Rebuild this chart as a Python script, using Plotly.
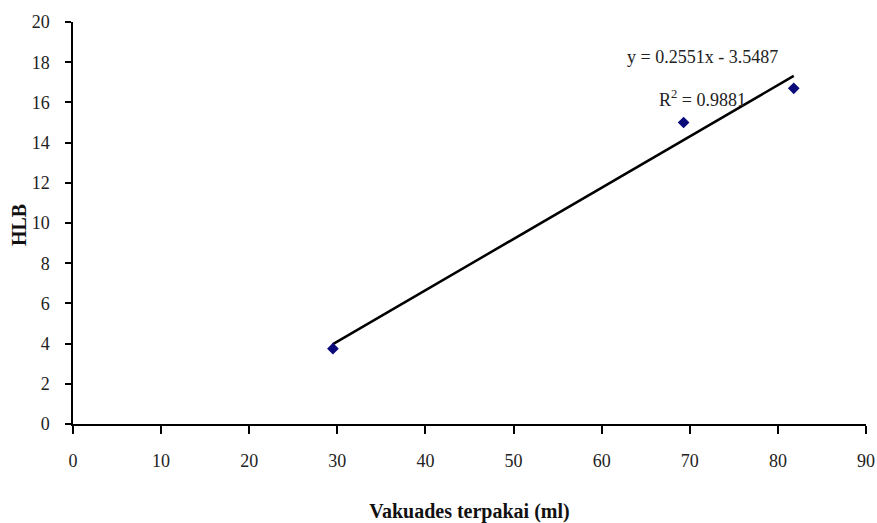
import plotly.graph_objects as go
import numpy as np

# Data
vakuades = [29.5, 69.3, 81.8]
hlb = [3.75, 15.0, 16.7]
trend_coef = [0.2551, -3.5487]
r_squared = 0.9881
x_ticks = [0, 10, 20, 30, 40, 50, 60, 70, 80, 90]
y_ticks = [0, 2, 4, 6, 8, 10, 12, 14, 16, 18, 20]

font_family = "Liberation Serif, Times New Roman, serif"

tx = np.array([min(vakuades), max(vakuades)])
ty = trend_coef[0] * tx + trend_coef[1]

fig = go.Figure()
fig.add_trace(go.Scatter(
    x=tx.tolist(), y=ty.tolist(), mode="lines",
    line=dict(color="black", width=2.5), showlegend=False, hoverinfo="skip"))
fig.add_trace(go.Scatter(
    x=vakuades, y=hlb, mode="markers",
    marker=dict(symbol="diamond", size=9, color="#0a0a7a"),
    showlegend=False))

fig.add_annotation(
    x=71.4, y=18.26, xref="x", yref="y",
    text=f"y = {trend_coef[0]}x - {abs(trend_coef[1])}",
    showarrow=False, font=dict(family=font_family, size=18, color="#222"),
    xanchor="center", yanchor="middle")
fig.add_annotation(
    x=71.4, y=16.17, xref="x", yref="y",
    text=f"R<sup>2</sup> = {r_squared}",
    showarrow=False, font=dict(family=font_family, size=18, color="#222"),
    xanchor="center", yanchor="middle")

# y-axis title placed close to tick labels, as in the reference
fig.add_annotation(
    x=-0.068, y=0.495, xref="paper", yref="paper",
    text="<b>HLB</b>", textangle=-90, showarrow=False,
    font=dict(family=font_family, size=20, color="#111"),
    xanchor="center", yanchor="middle")

axis_common = dict(
    showline=True, linecolor="black", linewidth=1.5,
    ticks="outside", tickcolor="black", tickwidth=1.5,
    showgrid=False, zeroline=False, automargin=False,
    tickfont=dict(family=font_family, size=18, color="#222"),
)

fig.update_xaxes(
    range=[0, 90], tickvals=x_ticks, ticklen=8, ticklabelstandoff=12,
    **axis_common,
    title=dict(text="<b>Vakuades terpakai (ml)</b>",
               font=dict(family=font_family, size=20, color="#111"),
               standoff=35))
fig.update_yaxes(
    range=[0, 20], tickvals=y_ticks, ticklen=6, ticklabelstandoff=12,
    **axis_common)

fig.update_layout(
    width=877, height=523,
    margin=dict(l=73, r=11, t=22, b=99),
    plot_bgcolor="white", paper_bgcolor="white",
)

fig.write_html("out.html", config={"displayModeBar": False},
               post_script="document.body.style.margin='0';")
